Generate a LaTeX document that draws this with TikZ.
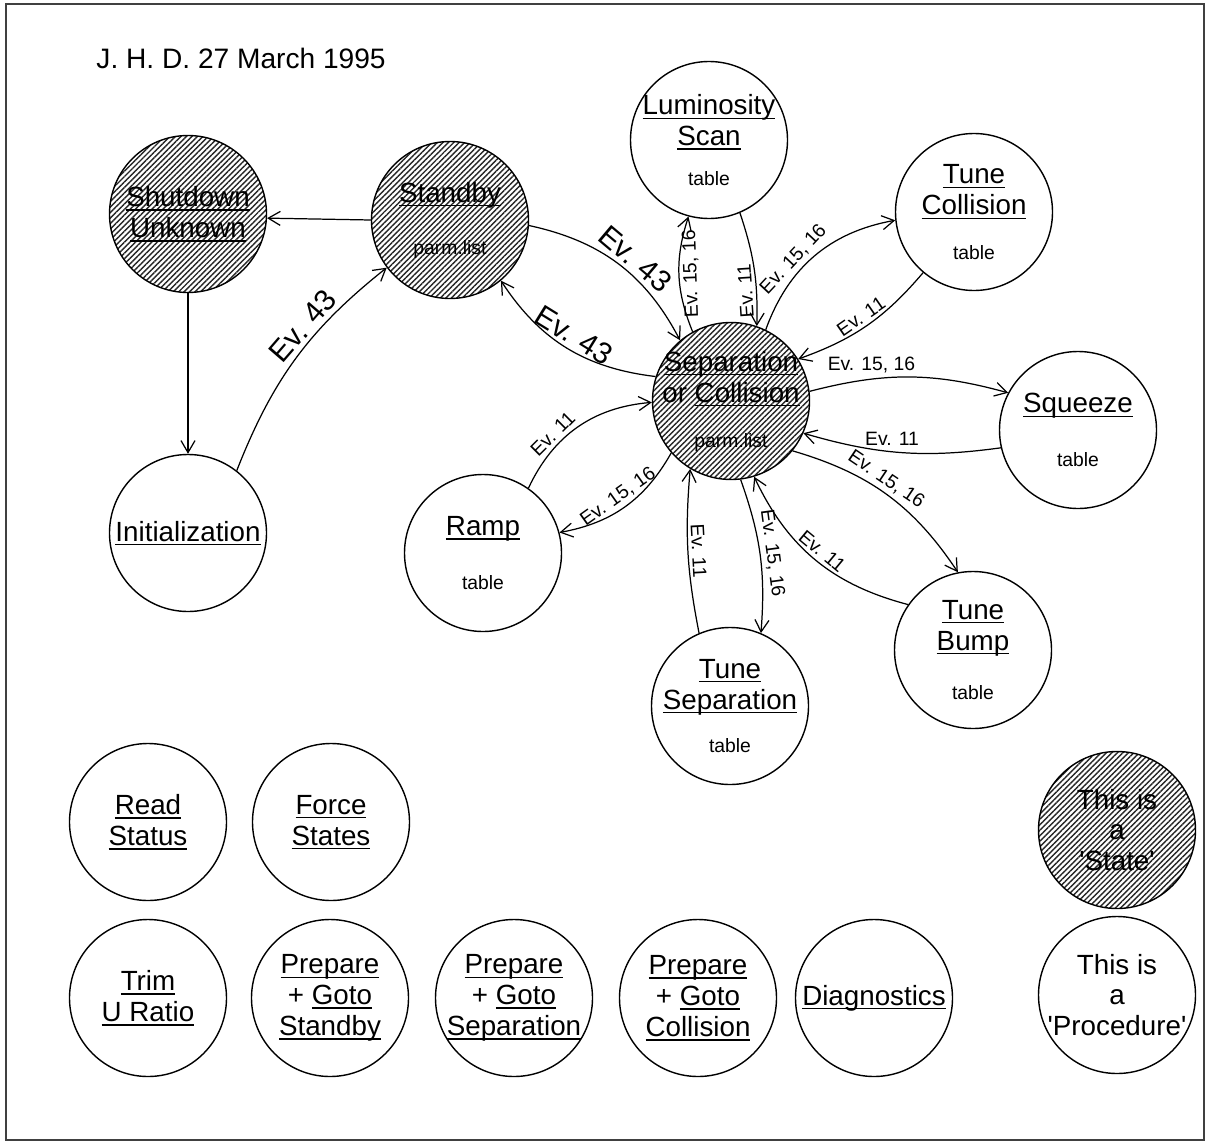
\documentclass[tikz,border=0pt]{standalone}
\usepackage{fontspec}
\setmainfont{Liberation Sans}
\usetikzlibrary{arrows.meta, patterns.meta}

\newcommand{\namefont}{\fontsize{15.8}{17.6}\selectfont}
\newcommand{\smallfont}{\fontsize{11}{13}\selectfont}
\newcommand{\evfont}{\fontsize{11}{13}\selectfont}
\newcommand{\bigevfont}{\fontsize{17}{19}\selectfont}
\newcommand{\titlefont}{\fontsize{16}{18}\selectfont}
\newcommand{\undl}[1]{\setbox0\hbox{#1}\rlap{\rule[-2.3pt]{\wd0}{0.7pt}}\box0}

\tikzset{
  proc/.style={circle, draw, line width=0.8pt, minimum size=31.4mm, inner sep=-2mm,
    align=center, font=\namefont},
  state/.style={proc, pattern={Lines[angle=45, distance=2.2pt, line width=0.8pt]},
    pattern color=black!85},
  evlbl/.style={font=\evfont, sloped, allow upside down, inner sep=2pt},
  biglbl/.style={font=\bigevfont, sloped, allow upside down, inner sep=2pt},
}

\begin{document}
\begin{tikzpicture}[x=0.2mm, y=0.2mm, line width=0.7pt,
    >={Straight Barb[length=2.4mm, width=2.8mm]}]
    \useasboundingbox (0,0) rectangle (1208,-1143);
    \draw[black!75, line width=1pt] (6,-4) rectangle (1204,-1140);

    \node[anchor=west, font=\titlefont] (title) at (90,-58) {J. H. D. 27 March 1995};

    % States
    \node[state] (shutdown) at (188,-214) {\undl{Shutdown}\\\undl{Unknown}};
    \node[state] (standby) at (450,-220) {\undl{Standby}\\[12pt]{\smallfont parm.list}};
    \node[state] (sepcoll) at (731,-401) {\undl{Separation}\\or \undl{Collision}\\[8pt]{\smallfont parm.list}};

    % Procedures around the states
    \node[proc] (init) at (188,-533) {\undl{Initialization}};
    \node[proc] (lumi) at (709,-140) {\undl{Luminosity}\\\undl{Scan}\\[4.9pt]{\smallfont table}};
    \node[proc] (tunecoll) at (974,-212) {\undl{Tune}\\\undl{Collision}\\[7.7pt]{\smallfont table}};
    \node[proc] (squeeze) at (1078,-430) {\undl{Squeeze}\\[13pt]{\smallfont table}};
    \node[proc] (ramp) at (483,-553) {\undl{Ramp}\\[13pt]{\smallfont table}};
    \node[proc] (tunebump) at (973,-650) {\undl{Tune}\\\undl{Bump}\\[10.6pt]{\smallfont table}};
    \node[proc] (tunesep) at (730,-706) {\undl{Tune}\\\undl{Separation}\\[7.2pt]{\smallfont table}};

    % Free procedures
    \node[proc] (readstat) at (148,-822) {\undl{Read}\\\undl{Status}};
    \node[proc] (force) at (331,-822) {\undl{Force}\\\undl{States}};
    \node[proc] (trim) at (148,-998) {\undl{Trim}\\\undl{U Ratio}};
    \node[proc] (gostandby) at (330,-998) {\undl{Prepare}\\+ \undl{Goto}\\\undl{Standby}};
    \node[proc] (gosep) at (514,-998) {\undl{Prepare}\\+ \undl{Goto}\\\undl{Separation}};
    \node[proc] (gocoll) at (698,-998) {\undl{Prepare}\\+ \undl{Goto}\\\undl{Collision}};
    \node[proc] (diag) at (874,-998) {\undl{Diagnostics}};

    % Legend
    \node[state] (stateleg) at (1117,-830) {This is\\a\\\textquotesingle State\textquotesingle};
    \node[proc] (procleg) at (1117,-995) {This is\\a\\\textquotesingle Procedure\textquotesingle};

    % Transitions
    \draw[->] (standby.180) -- (shutdown.-3);
    \draw[->] (shutdown.south) -- (init.north);
    \draw[->] (init.52) to[bend left=15] node[biglbl, above, pos=0.62] {Ev. 43} (standby.217);
    \draw[->] (standby.-4) to[bend left=25] node[biglbl, above, pos=0.55] {Ev. 43} (sepcoll.130);
    \draw[<-] (standby.-50) to[bend right=25] node[biglbl, above] {Ev. 43} (sepcoll.162);

    \draw[->] (sepcoll.119) to[bend left=20] node[evlbl, below] {Ev. 15, 16} (lumi.255);
    \draw[<-] (sepcoll.71) to[bend right=10] node[evlbl, above, pos=0.3] {Ev. 11} (lumi.293);
    \draw[->] (sepcoll.64) to[bend left=30] node[evlbl, above, pos=0.4] {Ev. 15, 16} (tunecoll.186);
    \draw[<-] (sepcoll.32) to[bend right=15] node[evlbl, above] {Ev. 11} (tunecoll.230);
    \draw[->] (sepcoll.7) to[bend left=15] node[font=\evfont, above, pos=0.3] {Ev. 15, 16} (squeeze.152);
    \draw[->] (squeeze.193) to[bend left=12] node[font=\evfont, above, pos=0.55] {Ev. 11} (sepcoll.-24);
    \draw[->] (sepcoll.-39) to[bend left=20] node[evlbl, above, pos=0.45] {Ev. 15, 16} (tunebump.101);
    \draw[<-] (sepcoll.-73) to[bend right=25] node[evlbl, above] {Ev. 11} (tunebump.145);
    \draw[->] (sepcoll.-83) to[bend left=12] node[evlbl, above] {Ev. 15, 16} (tunesep.67);
    \draw[<-] (sepcoll.239) to[bend right=8] node[evlbl, above] {Ev. 11} (tunesep.113);
    \draw[->] (ramp.55) to[bend left=30] node[evlbl, above, pos=0.35] {Ev. 11} (sepcoll.181);
    \draw[<-] (ramp.15) to[bend right=25] node[evlbl, above] {Ev. 15, 16} (sepcoll.221);
\end{tikzpicture}
\end{document}
